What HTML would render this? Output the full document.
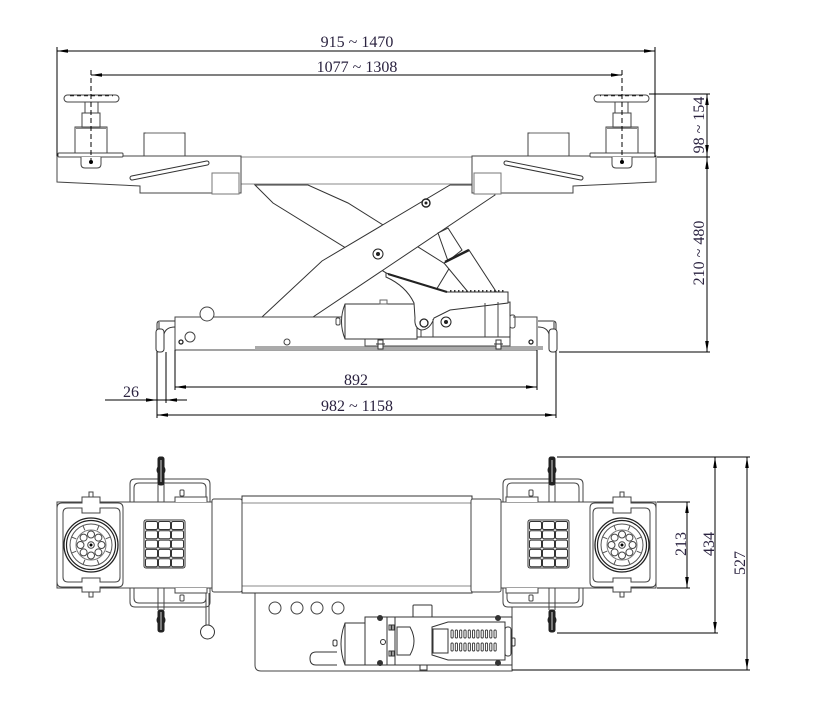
<!DOCTYPE html>
<html><head><meta charset="utf-8"><style>
html,body{margin:0;padding:0;background:#fff;}
svg{display:block;}
text{font-family:"Liberation Serif",serif;font-size:16px;fill:#2b2340;}
</style></head><body>
<svg width="820" height="703" viewBox="0 0 820 703" xmlns="http://www.w3.org/2000/svg">
<rect x="0" y="0" width="820" height="703" fill="#fff"/>

<!-- ================= TOP (SIDE) VIEW ================= -->
<!-- scissor arm B (behind) -->
<polygon points="255,185 308,185 348,203 450,267 430,300 273,203" fill="#fff" stroke="#333"/>
<!-- scissor arm A -->
<polygon points="262,317 322,261 450,185 490,185 495,195 313,317" fill="#fff" stroke="#333"/>
<circle cx="378" cy="254" r="5" fill="#fff" stroke="#222"/>
<circle cx="378" cy="254" r="2" fill="#222"/>
<circle cx="426" cy="203" r="4" fill="#fff" stroke="#222" stroke-width="1.4"/>
<circle cx="426" cy="203" r="1.5" fill="#222"/>

<!-- ram -->
<polygon points="438,233 448,228 462,250 448,261" fill="#fff" stroke="#333"/>
<polygon points="444,263 469,250 497,293 468,292" fill="#fff" stroke="#333"/>
<line x1="445" y1="262" x2="469" y2="250" stroke="#222" stroke-width="2.5"/>

<!-- center beam (side) -->
<line x1="241" y1="157" x2="473" y2="157" stroke="#888"/>
<line x1="241" y1="184" x2="473" y2="184" stroke="#888"/>

<!-- base frame -->
<rect x="175" y="317" width="362" height="33" fill="#fff" stroke="#444"/>
<rect x="255" y="346" width="288" height="4" fill="#aaa"/>
<circle cx="207" cy="314" r="7" fill="#fff" stroke="#444"/>
<circle cx="190" cy="337" r="5" fill="#fff" stroke="#444"/>
<circle cx="181" cy="342" r="2" fill="#fff" stroke="#222" stroke-width="1.3"/>
<circle cx="287" cy="342" r="3" fill="#fff" stroke="#444"/>
<circle cx="531" cy="342" r="2" fill="#fff" stroke="#222" stroke-width="1.3"/>

<!-- jack -->
<rect x="365" y="337" width="145" height="9" fill="#fff" stroke="#444"/>
<path d="M345,304 H417 V339 H345 Q338,321.5 345,304 Z" fill="#fff" stroke="#333"/>
<line x1="345" y1="304" x2="345" y2="339" stroke="#333"/>
<rect x="336" y="318" width="4" height="7" rx="1.5" fill="#fff" stroke="#444"/>
<rect x="380" y="300" width="7" height="4" fill="#fff" stroke="#666"/>
<polygon points="417,337 417,312 450,308 510,302 510,337" fill="#fff" stroke="#333"/>
<path d="M386,273 L447,292 L508,292 L508,303 L450,310 L434,318 Q430,330 421,330 Q414,328 415,318 L414,303 Q406,286 386,277 Z" fill="#fff" stroke="#333"/>
<line x1="388" y1="274" x2="447" y2="292" stroke="#222" stroke-width="2.2"/>
<line x1="450" y1="291" x2="506" y2="291" stroke="#333" stroke-width="2" stroke-dasharray="1.5 2.5"/>
<line x1="485" y1="303" x2="485" y2="337" stroke="#444"/>
<line x1="498" y1="302" x2="498" y2="337" stroke="#444"/>
<line x1="433" y1="319" x2="433" y2="337" stroke="#444"/>
<line x1="421" y1="330" x2="421" y2="337" stroke="#444"/>
<circle cx="424" cy="323" r="4" fill="#fff" stroke="#222" stroke-width="1.3"/>
<circle cx="446" cy="322" r="5" fill="#fff" stroke="#222"/>
<circle cx="446" cy="322" r="2" fill="#222"/>
<rect x="510" y="315" width="5" height="13" rx="2" fill="#fff" stroke="#444"/>
<rect x="378" y="340" width="5" height="9" fill="#fff" stroke="#333"/>
<line x1="376" y1="344" x2="385" y2="344" stroke="#333"/>
<rect x="496" y="340" width="5" height="9" fill="#fff" stroke="#333"/>
<line x1="494" y1="344" x2="503" y2="344" stroke="#333"/>
<line x1="513" y1="317" x2="537" y2="317" stroke="#444"/>

<!-- casters (side) -->
<g id="casL" fill="#fff" stroke="#333">
  <path d="M175,321 H160 Q157,321 157,324 V352" fill="none"/>
  <rect x="156" y="329" width="8" height="23" rx="3"/>
  <path d="M164,334 Q166,327 175,327" fill="none"/>
  <line x1="159" y1="322" x2="159" y2="329"/>
</g>
<use href="#casL" transform="translate(713,0) scale(-1,1)"/>

<!-- platform left half -->
<g id="topL" stroke="#444" fill="#fff">
  <path d="M57,156 L241,156 L241,193 L140,193 L140,186 L57,182 Z" stroke="#444"/>
  <rect x="212" y="173" width="27" height="21" stroke="#777"/>
  <line x1="132" y1="178" x2="207" y2="163" stroke="#333" stroke-width="5" stroke-linecap="round"/>
  <line x1="132" y1="178" x2="207" y2="163" stroke="#fff" stroke-width="3" stroke-linecap="round"/>
  <rect x="144" y="133" width="41" height="23"/>
  <line x1="146" y1="133" x2="183" y2="133" stroke="#999" stroke-width="1.5"/>
  <rect x="75" y="127" width="32" height="27"/>
  <line x1="76" y1="128" x2="106" y2="128" stroke="#888" stroke-width="2"/>
  <rect x="82" y="113" width="18" height="14"/>
  <rect x="85" y="102" width="13" height="11"/>
  <rect x="64" y="95" width="55" height="7" rx="3.5"/>
  <line x1="70" y1="95.5" x2="113" y2="95.5" stroke="#222" stroke-width="1.4" stroke-dasharray="4 3"/>
  <rect x="58" y="153" width="65" height="4" rx="1"/>
  <path d="M81,157 V164 Q81,168 85,168 H97 Q101,168 101,164 V157"/>
  <circle cx="91" cy="162" r="2" fill="#000" stroke="none"/>
  <line x1="91" y1="70" x2="91" y2="160" stroke="#000" stroke-dasharray="5 3"/>
</g>
<use href="#topL" transform="translate(713,0) scale(-1,1)"/>

<!-- top dims -->
<g stroke="#000" fill="none">
  <line x1="57" y1="51" x2="655" y2="51"/>
  <line x1="57" y1="47" x2="57" y2="156"/>
  <line x1="655" y1="47" x2="655" y2="157"/>
  <line x1="91" y1="75" x2="622" y2="75"/>
  <line x1="649" y1="94" x2="710" y2="94"/>
  <line x1="657" y1="157" x2="710" y2="157"/>
  <line x1="559" y1="352" x2="710" y2="352"/>
  <line x1="707" y1="94" x2="707" y2="352"/>
  <line x1="175" y1="350" x2="175" y2="390"/>
  <line x1="537" y1="350" x2="537" y2="390"/>
  <line x1="175" y1="387" x2="537" y2="387"/>
  <line x1="157" y1="352" x2="157" y2="418"/>
  <line x1="556" y1="352" x2="556" y2="418"/>
  <line x1="157" y1="415" x2="556" y2="415"/>
  <line x1="166" y1="352" x2="166" y2="403"/>
  <line x1="105" y1="400" x2="187" y2="400"/>
</g>
<g fill="#000">
  <polygon points="57,51 68,49.2 68,52.8"/>
  <polygon points="655,51 644,49.2 644,52.8"/>
  <polygon points="91,75 102,73.2 102,76.8"/>
  <polygon points="622,75 611,73.2 611,76.8"/>
  <polygon points="707,94 705.2,105 708.8,105"/>
  <polygon points="707,156 705.2,145 708.8,145"/>
  <polygon points="707,158 705.2,169 708.8,169"/>
  <polygon points="707,352 705.2,341 708.8,341"/>
  <polygon points="175,387 186,385.2 186,388.8"/>
  <polygon points="537,387 526,385.2 526,388.8"/>
  <polygon points="157,415 168,413.2 168,416.8"/>
  <polygon points="556,415 545,413.2 545,416.8"/>
  <polygon points="157,400 146,398.2 146,401.8"/>
  <polygon points="166,400 177,398.2 177,401.8"/>
</g>
<text x="357" y="47" text-anchor="middle">915 ~ 1470</text>
<text x="357" y="72" text-anchor="middle">1077 ~ 1308</text>
<text x="356" y="385" text-anchor="middle">892</text>
<text x="357" y="411" text-anchor="middle">982 ~ 1158</text>
<text x="131" y="397" text-anchor="middle">26</text>
<text transform="translate(704,125) rotate(-90)" text-anchor="middle">98 ~ 154</text>
<text transform="translate(704,253) rotate(-90)" text-anchor="middle">210 ~ 480</text>

<!-- ================= BOTTOM (PLAN) VIEW ================= -->
<!-- jack plate -->
<path d="M255,593 V665 Q255,671 261,671 H512 V607" fill="#fff" stroke="#444"/>
<g fill="#fff" stroke="#444">
  <circle cx="275" cy="608" r="6"/>
  <circle cx="297" cy="608" r="6"/>
  <circle cx="317" cy="608" r="6"/>
  <circle cx="338" cy="608" r="6"/>
</g>
<!-- jack plan -->
<g fill="#fff" stroke="#333">
  <path d="M337,652 H316 Q310,652 310,658.5 Q310,665 316,665 H337"/>
  <path d="M345,623 H387 V665 H345 Q337,644 345,623 Z"/>
  <line x1="345" y1="623" x2="345" y2="665"/>
  <rect x="333" y="640" width="4" height="6" rx="1.5"/>
  <rect x="413" y="605" width="19" height="13" rx="1"/>
  <rect x="420" y="662" width="7" height="8"/>
  <rect x="365" y="617" width="147" height="48"/>
  <line x1="387" y1="617" x2="387" y2="665"/>
  <line x1="395" y1="617" x2="395" y2="665"/>
  <path d="M397,627 H410 Q418,641 410,655 H397 Z"/>
  <polygon points="432,627 448,622 505,622 505,660 448,660 432,655"/>
  <rect x="433" y="629" width="15" height="24"/>
  <rect x="505" y="627" width="6" height="29" rx="2.5"/>
  <rect x="512" y="638" width="3" height="8" rx="1"/>
  <circle cx="383" cy="642" r="2.5"/>
  <circle cx="380" cy="618" r="2.5" fill="#333"/>
  <circle cx="380" cy="663" r="2.5" fill="#333"/>
  <circle cx="498" cy="618" r="2.5" fill="#333"/>
  <circle cx="498" cy="663" r="2.5" fill="#333"/>
  <rect x="389" y="625" width="2" height="5"/>
  <rect x="392" y="625" width="2" height="5"/>
  <rect x="389" y="651" width="2" height="5"/>
  <rect x="392" y="651" width="2" height="5"/>
</g>
<g fill="#fff" stroke="#333" stroke-width="0.9">
  <rect x="451" y="630" width="2.2" height="8" rx="1"/><rect x="455.3" y="630" width="2.2" height="8" rx="1"/><rect x="459.6" y="630" width="2.2" height="8" rx="1"/><rect x="463.9" y="630" width="2.2" height="8" rx="1"/><rect x="468.2" y="630" width="2.2" height="8" rx="1"/><rect x="472.5" y="630" width="2.2" height="8" rx="1"/><rect x="476.8" y="630" width="2.2" height="8" rx="1"/><rect x="481.1" y="630" width="2.2" height="8" rx="1"/><rect x="485.4" y="630" width="2.2" height="8" rx="1"/><rect x="489.7" y="630" width="2.2" height="8" rx="1"/><rect x="494" y="630" width="2.2" height="8" rx="1"/>
  <rect x="451" y="643" width="2.2" height="8" rx="1"/><rect x="455.3" y="643" width="2.2" height="8" rx="1"/><rect x="459.6" y="643" width="2.2" height="8" rx="1"/><rect x="463.9" y="643" width="2.2" height="8" rx="1"/><rect x="468.2" y="643" width="2.2" height="8" rx="1"/><rect x="472.5" y="643" width="2.2" height="8" rx="1"/><rect x="476.8" y="643" width="2.2" height="8" rx="1"/><rect x="481.1" y="643" width="2.2" height="8" rx="1"/><rect x="485.4" y="643" width="2.2" height="8" rx="1"/><rect x="489.7" y="643" width="2.2" height="8" rx="1"/><rect x="494" y="643" width="2.2" height="8" rx="1"/>
</g>

<!-- center beam plan -->
<rect x="242" y="496" width="230" height="97" fill="#fff" stroke="#333"/>
<line x1="242" y1="503" x2="472" y2="503" stroke="#888"/>
<line x1="242" y1="586" x2="472" y2="586" stroke="#888"/>

<!-- left end (plan) -->
<g id="endL" stroke="#444" fill="none">
  <path d="M130,502 V484 Q130,479 135,479 H205 Q210,479 210,484 V502"/>
  <path d="M134,502 V488 Q134,483 139,483 H201 Q206,483 206,488 V502"/>
  <path d="M130,588 V602 Q130,607 135,607 H205 Q210,607 210,602 V588"/>
  <path d="M134,588 V598 Q134,603 139,603 H201 Q206,603 206,598 V588"/>
  <line x1="158" y1="484" x2="158" y2="502"/>
  <line x1="164" y1="484" x2="164" y2="502"/>
  <line x1="158" y1="588" x2="158" y2="610"/>
  <line x1="164" y1="588" x2="164" y2="610"/>
  <rect x="158" y="457" width="6" height="28" rx="2" fill="#222" stroke="#222"/>
  <ellipse cx="161" cy="470" rx="4.5" ry="5" fill="#222" stroke="none"/>
  <line x1="161" y1="460" x2="161" y2="482" stroke="#fff" stroke-width="0.8"/>
  <rect x="158" y="610" width="6" height="22" rx="2" fill="#222" stroke="#222"/>
  <ellipse cx="161" cy="620" rx="4.5" ry="5" fill="#222" stroke="none"/>
  <line x1="161" y1="612" x2="161" y2="630" stroke="#fff" stroke-width="0.8"/>
  <rect x="57" y="502" width="185" height="86" fill="#fff"/>
  <path d="M175,502 V497 H207 V502" fill="#fff"/>
  <path d="M175,588 V593 H207 V588" fill="#fff"/>
  <rect x="180" y="490" width="4" height="6" rx="1" fill="#fff"/>
  <rect x="180" y="595" width="4" height="6" rx="1" fill="#fff"/>
  <rect x="212" y="499" width="30" height="93" rx="2" fill="#fff"/>
  <path d="M63,503 H82 V497 H100 V503 H118 Q123,503 123,508 V582 Q123,587 118,587 H100 V592 H82 V587 H62 Q57,587 57,582 V508 Q57,503 62,503 Z" fill="#fff"/>
  <path d="M68,508 H82 V513 H100 V508 H115 Q120,508 120,513 V577 Q120,582 115,582 H100 V578 H82 V582 H68 Q63,582 63,577 V513 Q63,508 68,508 Z" fill="#fff"/>
  <rect x="89" y="492" width="4" height="5" fill="#fff"/>
  <rect x="89" y="592" width="4" height="5" fill="#fff"/>
  <g transform="translate(91,545)">
    <circle r="27" fill="#fff" stroke="#222" stroke-width="1.3"/>
    <circle r="24.5" fill="#fff" stroke="#222" stroke-width="1.2"/>
    <circle r="21" stroke="#555"/>
    <circle r="15" stroke="#777"/>
    <g stroke="#555">
      <line x1="14.8" y1="6.1" x2="19.4" y2="8"/>
      <line x1="14.8" y1="6.1" x2="19.4" y2="8" transform="rotate(45)"/>
      <line x1="14.8" y1="6.1" x2="19.4" y2="8" transform="rotate(90)"/>
      <line x1="14.8" y1="6.1" x2="19.4" y2="8" transform="rotate(135)"/>
      <line x1="14.8" y1="6.1" x2="19.4" y2="8" transform="rotate(180)"/>
      <line x1="14.8" y1="6.1" x2="19.4" y2="8" transform="rotate(225)"/>
      <line x1="14.8" y1="6.1" x2="19.4" y2="8" transform="rotate(270)"/>
      <line x1="14.8" y1="6.1" x2="19.4" y2="8" transform="rotate(315)"/>
    </g>
    <g fill="#fff" stroke="#444">
      <circle cx="10.5" cy="0" r="3.5"/>
      <circle cx="7.4" cy="7.4" r="3.5"/>
      <circle cx="0" cy="10.5" r="3.5"/>
      <circle cx="-7.4" cy="7.4" r="3.5"/>
      <circle cx="-10.5" cy="0" r="3.5"/>
      <circle cx="-7.4" cy="-7.4" r="3.5"/>
      <circle cx="0" cy="-10.5" r="3.5"/>
      <circle cx="7.4" cy="-7.4" r="3.5"/>
      <circle r="3.3"/>
    </g>
    <circle r="1.5" fill="#000" stroke="none"/>
  </g>
  <rect x="144" y="520" width="41" height="48" rx="2" fill="#fff" stroke="#333"/>
  <g fill="#fff" stroke="#333">
    <rect x="145.5" y="521.5" width="12" height="8" rx="1.5"/><rect x="158.5" y="521.5" width="12" height="8" rx="1.5"/><rect x="171.5" y="521.5" width="12" height="8" rx="1.5"/>
    <rect x="145.5" y="530.8" width="12" height="8" rx="1.5"/><rect x="158.5" y="530.8" width="12" height="8" rx="1.5"/><rect x="171.5" y="530.8" width="12" height="8" rx="1.5"/>
    <rect x="145.5" y="540.1" width="12" height="8" rx="1.5"/><rect x="158.5" y="540.1" width="12" height="8" rx="1.5"/><rect x="171.5" y="540.1" width="12" height="8" rx="1.5"/>
    <rect x="145.5" y="549.4" width="12" height="8" rx="1.5"/><rect x="158.5" y="549.4" width="12" height="8" rx="1.5"/><rect x="171.5" y="549.4" width="12" height="8" rx="1.5"/>
    <rect x="145.5" y="558.7" width="12" height="8" rx="1.5"/><rect x="158.5" y="558.7" width="12" height="8" rx="1.5"/><rect x="171.5" y="558.7" width="12" height="8" rx="1.5"/>
  </g>
</g>
<use href="#endL" transform="translate(713,0) scale(-1,1)"/>

<!-- handle (left) -->
<line x1="206" y1="593" x2="206" y2="626" stroke="#444"/>
<line x1="209" y1="593" x2="209" y2="626" stroke="#444"/>
<circle cx="207.5" cy="632" r="7" fill="#fff" stroke="#333"/>

<!-- plan dims -->
<g stroke="#000" fill="none">
  <line x1="557" y1="457" x2="750" y2="457"/>
  <line x1="657" y1="502" x2="690" y2="502"/>
  <line x1="657" y1="588" x2="690" y2="588"/>
  <line x1="557" y1="633" x2="718" y2="633"/>
  <line x1="512" y1="670" x2="750" y2="670"/>
  <line x1="687" y1="502" x2="687" y2="588"/>
  <line x1="715" y1="457" x2="715" y2="633"/>
  <line x1="747" y1="457" x2="747" y2="670"/>
</g>
<g fill="#000">
  <polygon points="687,502 685.2,513 688.8,513"/>
  <polygon points="687,588 685.2,577 688.8,577"/>
  <polygon points="715,457 713.2,468 716.8,468"/>
  <polygon points="715,633 713.2,622 716.8,622"/>
  <polygon points="747,457 745.2,468 748.8,468"/>
  <polygon points="747,670 745.2,659 748.8,659"/>
</g>
<text transform="translate(686,544) rotate(-90)" text-anchor="middle">213</text>
<text transform="translate(714,544) rotate(-90)" text-anchor="middle">434</text>
<text transform="translate(745,563) rotate(-90)" text-anchor="middle">527</text>
</svg>
</body></html>
